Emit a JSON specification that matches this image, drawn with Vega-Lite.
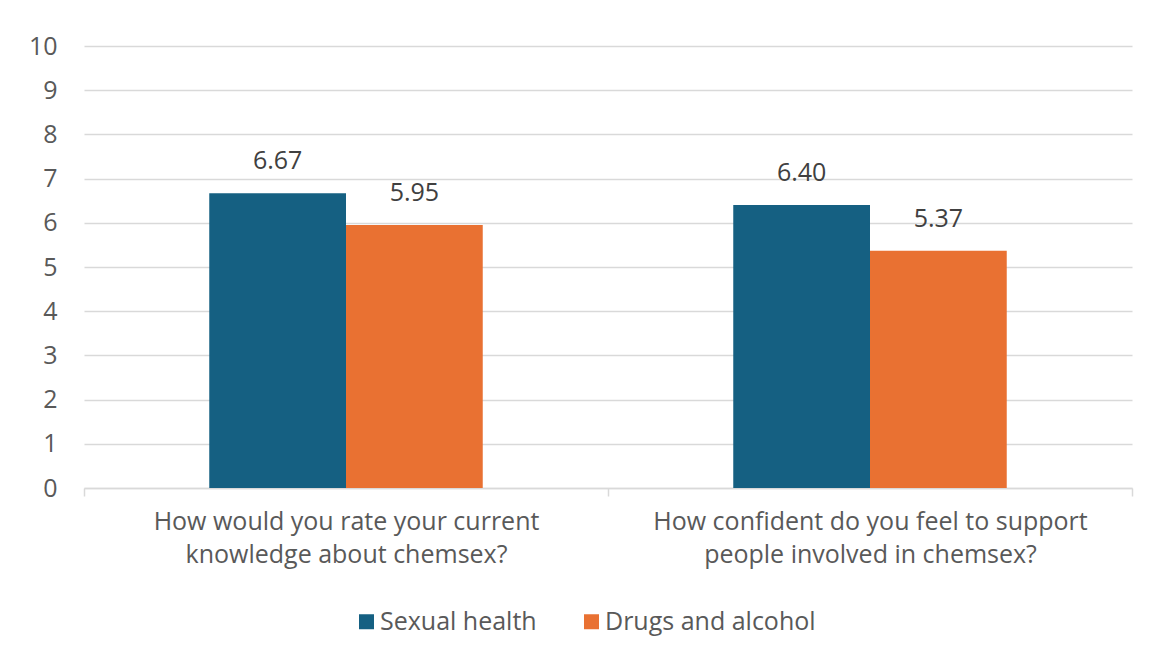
{
  "$schema": "https://vega.github.io/schema/vega-lite/v6.json",
  "autosize": {"type": "none"},
  "width": 1048,
  "height": 442,
  "padding": {"left": 84, "top": 46, "right": 23, "bottom": 173},
  "background": "#ffffff",
  "config": {
    "font": "Open Sans",
    "view": {"stroke": null}
  },
  "data": {
    "values": [
      {"question": "How would you rate your current knowledge about chemsex?", "sector": "Sexual health", "score": 6.67},
      {"question": "How would you rate your current knowledge about chemsex?", "sector": "Drugs and alcohol", "score": 5.95},
      {"question": "How confident do you feel to support people involved in chemsex?", "sector": "Sexual health", "score": 6.40},
      {"question": "How confident do you feel to support people involved in chemsex?", "sector": "Drugs and alcohol", "score": 5.37}
    ]
  },
  "encoding": {
    "x": {
      "field": "question",
      "type": "nominal",
      "sort": null,
      "title": null,
      "scale": {"paddingInner": 0, "paddingOuter": 0},
      "axis": {
        "labelAngle": 0,
        "labelExpr": "isValid(datum.value) ? split(replace(datum.value, regexp('(current|support) '), '$1|'), '|') : ''",
        "labelFontSize": 25,
        "labelColor": "#595959",
        "labelLineHeight": 33,
        "labelPadding": 13,
        "labelLimit": 0,
        "tickBand": "extent",
        "tickSize": 8,
        "tickColor": "#D9D9D9",
        "tickWidth": 1.5,
        "domainColor": "#D9D9D9",
        "domainWidth": 1.5,
        "grid": false
      }
    },
    "xOffset": {
      "field": "sector",
      "type": "nominal",
      "sort": ["Sexual health", "Drugs and alcohol"],
      "scale": {"paddingInner": 0, "paddingOuter": 0.916}
    },
    "y": {
      "field": "score",
      "type": "quantitative",
      "title": null,
      "scale": {"domain": [0, 10], "nice": false},
      "axis": {
        "values": [0, 1, 2, 3, 4, 5, 6, 7, 8, 9, 10],
        "labelFontSize": 25,
        "labelColor": "#595959",
        "labelPadding": 27,
        "ticks": false,
        "domain": false,
        "gridColor": "#D9D9D9",
        "gridWidth": 1.4
      }
    }
  },
  "layer": [
    {
      "mark": {"type": "bar"},
      "encoding": {
        "color": {
          "field": "sector",
          "type": "nominal",
          "sort": ["Sexual health", "Drugs and alcohol"],
          "scale": {"domain": ["Sexual health", "Drugs and alcohol"], "range": ["#156082", "#E97132"]},
          "legend": {
            "title": null,
            "orient": "none",
            "direction": "horizontal",
            "legendX": 270,
            "legendY": 563,
            "symbolType": "square",
            "symbolSize": 225,
            "symbolStrokeWidth": 0,
            "symbolOpacity": 1,
            "labelFontSize": 25,
            "labelColor": "#595959",
            "labelOffset": 1,
            "labelLimit": 0,
            "columnPadding": 42
          }
        }
      }
    },
    {
      "mark": {"type": "text", "baseline": "alphabetic", "dy": -24, "fontSize": 25, "color": "#404040"},
      "encoding": {
        "text": {"field": "score", "type": "quantitative", "format": ".2f"}
      }
    }
  ]
}
